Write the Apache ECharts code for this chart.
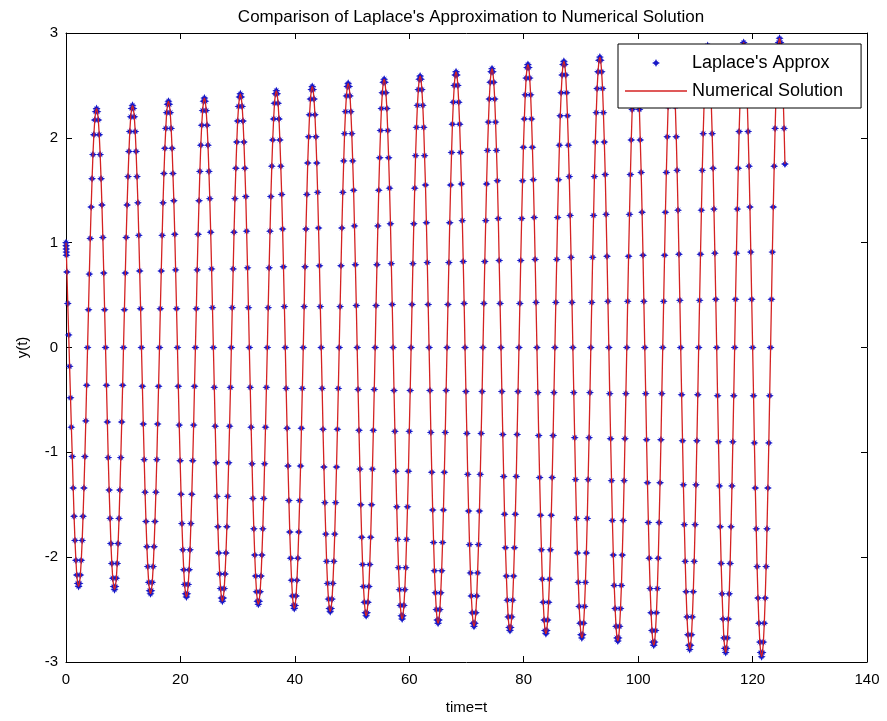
<!DOCTYPE html>
<html><head><meta charset="utf-8">
<script src="https://cdn.jsdelivr.net/npm/echarts@6/dist/echarts.min.js"></script>
<style>html,body{margin:0;padding:0;background:#fff}#main{width:887px;height:721px}</style>
</head><body><div id="main"></div>
<script>
const titleText = "Comparison of Laplace's Approximation to Numerical Solution";
const seriesNames = ["Laplace's Approx", "Numerical Solution"];
const xAxisName = "time=t";
const yAxisName = "y(t)";
const xTicks = [0, 20, 40, 60, 80, 100, 120, 140];
const yTicks = [-3, -2, -1, 0, 1, 2, 3];

// sample times (solver output points)
const timeValues = [
0,0.02,0.04,0.06,0.08,0.16,0.31,0.47,0.63,0.79,0.94,1.10,1.26,1.41,1.57,1.73,1.88,2.04,2.20,2.36,2.51,2.67,2.83,2.98,3.14,3.30,3.46,3.61,3.77,3.93,4.08,4.24,4.40,4.56,4.71,4.87,5.03,5.18,5.34,5.50,5.65,5.81,5.97,6.13,
6.28,6.44,6.60,6.75,6.91,7.07,7.23,7.38,7.54,7.70,7.85,8.01,8.17,8.33,8.48,8.64,8.80,8.95,9.11,9.27,9.42,9.58,9.74,9.90,10.05,10.21,10.37,10.52,10.68,10.84,11.00,11.15,11.31,11.47,11.62,11.78,11.94,12.10,12.25,12.41,
12.57,12.72,12.88,13.04,13.19,13.35,13.51,13.67,13.82,13.98,14.14,14.29,14.45,14.61,14.77,14.92,15.08,15.24,15.39,15.55,15.71,15.87,16.02,16.18,16.34,16.49,16.65,16.81,16.96,17.12,17.28,17.44,17.59,17.75,17.91,18.06,18.22,18.38,18.54,18.69,
18.85,19.01,19.16,19.32,19.48,19.63,19.79,19.95,20.11,20.26,20.42,20.58,20.73,20.89,21.05,21.21,21.36,21.52,21.68,21.83,21.99,22.15,22.31,22.46,22.62,22.78,22.93,23.09,23.25,23.40,23.56,23.72,23.88,24.03,24.19,24.35,24.50,24.66,24.82,24.98,
25.13,25.29,25.45,25.60,25.76,25.92,26.08,26.23,26.39,26.55,26.70,26.86,27.02,27.17,27.33,27.49,27.65,27.80,27.96,28.12,28.27,28.43,28.59,28.75,28.90,29.06,29.22,29.37,29.53,29.69,29.85,30.00,30.16,30.32,30.47,30.63,30.79,30.94,31.10,31.26,
31.42,31.57,31.73,31.89,32.04,32.20,32.36,32.52,32.67,32.83,32.99,33.14,33.30,33.46,33.62,33.77,33.93,34.09,34.24,34.40,34.56,34.71,34.87,35.03,35.19,35.34,35.50,35.66,35.81,35.97,36.13,36.29,36.44,36.60,36.76,36.91,37.07,37.23,37.38,37.54,
37.70,37.86,38.01,38.17,38.33,38.48,38.64,38.80,38.96,39.11,39.27,39.43,39.58,39.74,39.90,40.06,40.21,40.37,40.53,40.68,40.84,41.00,41.15,41.31,41.47,41.63,41.78,41.94,42.10,42.25,42.41,42.57,42.73,42.88,43.04,43.20,43.35,43.51,43.67,43.83,
43.98,44.14,44.30,44.45,44.61,44.77,44.92,45.08,45.24,45.40,45.55,45.71,45.87,46.02,46.18,46.34,46.50,46.65,46.81,46.97,47.12,47.28,47.44,47.60,47.75,47.91,48.07,48.22,48.38,48.54,48.69,48.85,49.01,49.17,49.32,49.48,49.64,49.79,49.95,50.11,
50.27,50.42,50.58,50.74,50.89,51.05,51.21,51.37,51.52,51.68,51.84,51.99,52.15,52.31,52.46,52.62,52.78,52.94,53.09,53.25,53.41,53.56,53.72,53.88,54.04,54.19,54.35,54.51,54.66,54.82,54.98,55.13,55.29,55.45,55.61,55.76,55.92,56.08,56.23,56.39,
56.55,56.71,56.86,57.02,57.18,57.33,57.49,57.65,57.81,57.96,58.12,58.28,58.43,58.59,58.75,58.90,59.06,59.22,59.38,59.53,59.69,59.85,60.00,60.16,60.32,60.48,60.63,60.79,60.95,61.10,61.26,61.42,61.58,61.73,61.89,62.05,62.20,62.36,62.52,62.67,
62.83,62.99,63.15,63.30,63.46,63.62,63.77,63.93,64.09,64.25,64.40,64.56,64.72,64.87,65.03,65.19,65.35,65.50,65.66,65.82,65.97,66.13,66.29,66.44,66.60,66.76,66.92,67.07,67.23,67.39,67.54,67.70,67.86,68.02,68.17,68.33,68.49,68.64,68.80,68.96,
69.12,69.27,69.43,69.59,69.74,69.90,70.06,70.21,70.37,70.53,70.69,70.84,71.00,71.16,71.31,71.47,71.63,71.79,71.94,72.10,72.26,72.41,72.57,72.73,72.88,73.04,73.20,73.36,73.51,73.67,73.83,73.98,74.14,74.30,74.46,74.61,74.77,74.93,75.08,75.24,
75.40,75.56,75.71,75.87,76.03,76.18,76.34,76.50,76.65,76.81,76.97,77.13,77.28,77.44,77.60,77.75,77.91,78.07,78.23,78.38,78.54,78.70,78.85,79.01,79.17,79.33,79.48,79.64,79.80,79.95,80.11,80.27,80.42,80.58,80.74,80.90,81.05,81.21,81.37,81.52,
81.68,81.84,82.00,82.15,82.31,82.47,82.62,82.78,82.94,83.10,83.25,83.41,83.57,83.72,83.88,84.04,84.19,84.35,84.51,84.67,84.82,84.98,85.14,85.29,85.45,85.61,85.77,85.92,86.08,86.24,86.39,86.55,86.71,86.87,87.02,87.18,87.34,87.49,87.65,87.81,
87.96,88.12,88.28,88.44,88.59,88.75,88.91,89.06,89.22,89.38,89.54,89.69,89.85,90.01,90.16,90.32,90.48,90.63,90.79,90.95,91.11,91.26,91.42,91.58,91.73,91.89,92.05,92.21,92.36,92.52,92.68,92.83,92.99,93.15,93.31,93.46,93.62,93.78,93.93,94.09,
94.25,94.40,94.56,94.72,94.88,95.03,95.19,95.35,95.50,95.66,95.82,95.98,96.13,96.29,96.45,96.60,96.76,96.92,97.08,97.23,97.39,97.55,97.70,97.86,98.02,98.17,98.33,98.49,98.65,98.80,98.96,99.12,99.27,99.43,99.59,99.75,99.90,100.06,100.22,100.37,
100.53,100.69,100.85,101.00,101.16,101.32,101.47,101.63,101.79,101.94,102.10,102.26,102.42,102.57,102.73,102.89,103.04,103.20,103.36,103.52,103.67,103.83,103.99,104.14,104.30,104.46,104.62,104.77,104.93,105.09,105.24,105.40,105.56,105.71,105.87,106.03,106.19,106.34,106.50,106.66,
106.81,106.97,107.13,107.29,107.44,107.60,107.76,107.91,108.07,108.23,108.38,108.54,108.70,108.86,109.01,109.17,109.33,109.48,109.64,109.80,109.96,110.11,110.27,110.43,110.58,110.74,110.90,111.06,111.21,111.37,111.53,111.68,111.84,112.00,112.15,112.31,112.47,112.63,112.78,112.94,
113.10,113.25,113.41,113.57,113.73,113.88,114.04,114.20,114.35,114.51,114.67,114.83,114.98,115.14,115.30,115.45,115.61,115.77,115.92,116.08,116.24,116.40,116.55,116.71,116.87,117.02,117.18,117.34,117.50,117.65,117.81,117.97,118.12,118.28,118.44,118.60,118.75,118.91,119.07,119.22,
119.38,119.54,119.69,119.85,120.01,120.17,120.32,120.48,120.64,120.79,120.95,121.11,121.27,121.42,121.58,121.74,121.89,122.05,122.21,122.37,122.52,122.68,122.84,122.99,123.15,123.31,123.46,123.62,123.78,123.94,124.09,124.25,124.41,124.56,124.72,124.88,125.04,125.19,125.35,125.51,
125.66
];

// Laplace approximation y(t), read from the markers
const laplaceValues = [
1.00,0.97,0.94,0.91,0.88,0.72,0.42,0.12,-0.18,-0.48,-0.76,-1.04,-1.34,-1.61,-1.84,-2.03,-2.17,-2.25,-2.28,-2.25,-2.17,-2.03,-1.84,-1.61,-1.34,-1.04,-0.70,-0.36,0,0.36,0.70,1.04,1.34,1.61,1.84,2.03,2.17,2.25,2.28,2.25,2.17,2.03,1.84,1.61,
1.36,1.05,0.71,0.36,0,-0.36,-0.71,-1.05,-1.36,-1.63,-1.87,-2.06,-2.20,-2.28,-2.31,-2.28,-2.20,-2.06,-1.87,-1.63,-1.36,-1.05,-0.71,-0.36,0,0.36,0.71,1.05,1.36,1.63,1.87,2.06,2.20,2.28,2.31,2.28,2.20,2.06,1.87,1.63,
1.38,1.07,0.73,0.37,0,-0.37,-0.73,-1.07,-1.38,-1.66,-1.90,-2.09,-2.24,-2.32,-2.35,-2.32,-2.24,-2.09,-1.90,-1.66,-1.38,-1.07,-0.73,-0.37,0,0.37,0.73,1.07,1.38,1.66,1.90,2.09,2.24,2.32,2.35,2.32,2.24,2.09,1.90,1.66,
1.40,1.08,0.74,0.37,0,-0.37,-0.74,-1.08,-1.40,-1.68,-1.93,-2.12,-2.26,-2.35,-2.38,-2.35,-2.26,-2.12,-1.93,-1.68,-1.40,-1.08,-0.74,-0.37,0,0.37,0.74,1.08,1.40,1.68,1.93,2.12,2.26,2.35,2.38,2.35,2.26,2.12,1.93,1.68,
1.42,1.10,0.75,0.38,0,-0.38,-0.75,-1.10,-1.42,-1.71,-1.96,-2.16,-2.30,-2.39,-2.42,-2.39,-2.30,-2.16,-1.96,-1.71,-1.42,-1.10,-0.75,-0.38,0,0.38,0.75,1.10,1.42,1.71,1.96,2.16,2.30,2.39,2.42,2.39,2.30,2.16,1.96,1.71,
1.44,1.11,0.76,0.38,0,-0.38,-0.76,-1.11,-1.44,-1.73,-1.98,-2.18,-2.33,-2.42,-2.45,-2.42,-2.33,-2.18,-1.98,-1.73,-1.44,-1.11,-0.76,-0.38,0,0.38,0.76,1.11,1.44,1.73,1.98,2.18,2.33,2.42,2.45,2.42,2.33,2.18,1.98,1.73,
1.46,1.13,0.77,0.39,0,-0.39,-0.77,-1.13,-1.46,-1.76,-2.01,-2.22,-2.37,-2.46,-2.49,-2.46,-2.37,-2.22,-2.01,-1.76,-1.46,-1.13,-0.77,-0.39,0,0.39,0.77,1.13,1.46,1.76,2.01,2.22,2.37,2.46,2.49,2.46,2.37,2.22,2.01,1.76,
1.48,1.14,0.78,0.39,0,-0.39,-0.78,-1.14,-1.48,-1.78,-2.04,-2.25,-2.40,-2.49,-2.52,-2.49,-2.40,-2.25,-2.04,-1.78,-1.48,-1.14,-0.78,-0.39,0,0.39,0.78,1.14,1.48,1.78,2.04,2.25,2.40,2.49,2.52,2.49,2.40,2.25,2.04,1.78,
1.50,1.16,0.79,0.40,0,-0.40,-0.79,-1.16,-1.50,-1.81,-2.07,-2.28,-2.43,-2.53,-2.56,-2.53,-2.43,-2.28,-2.07,-1.81,-1.50,-1.16,-0.79,-0.40,0,0.40,0.79,1.16,1.50,1.81,2.07,2.28,2.43,2.53,2.56,2.53,2.43,2.28,2.07,1.81,
1.52,1.18,0.80,0.41,0,-0.41,-0.80,-1.18,-1.52,-1.83,-2.10,-2.31,-2.46,-2.56,-2.59,-2.56,-2.46,-2.31,-2.10,-1.83,-1.52,-1.18,-0.80,-0.41,0,0.41,0.80,1.18,1.52,1.83,2.10,2.31,2.46,2.56,2.59,2.56,2.46,2.31,2.10,1.83,
1.55,1.19,0.81,0.41,0,-0.41,-0.81,-1.19,-1.55,-1.86,-2.13,-2.34,-2.50,-2.60,-2.63,-2.60,-2.50,-2.34,-2.13,-1.86,-1.55,-1.19,-0.81,-0.41,0,0.41,0.81,1.19,1.55,1.86,2.13,2.34,2.50,2.60,2.63,2.60,2.50,2.34,2.13,1.86,
1.56,1.21,0.82,0.42,0,-0.42,-0.82,-1.21,-1.56,-1.88,-2.15,-2.37,-2.53,-2.63,-2.66,-2.63,-2.53,-2.37,-2.15,-1.88,-1.56,-1.21,-0.82,-0.42,0,0.42,0.82,1.21,1.56,1.88,2.15,2.37,2.53,2.63,2.66,2.63,2.53,2.37,2.15,1.88,
1.59,1.23,0.83,0.42,0,-0.42,-0.83,-1.23,-1.59,-1.91,-2.18,-2.41,-2.57,-2.67,-2.70,-2.67,-2.57,-2.41,-2.18,-1.91,-1.59,-1.23,-0.83,-0.42,0,0.42,0.83,1.23,1.59,1.91,2.18,2.41,2.57,2.67,2.70,2.67,2.57,2.41,2.18,1.91,
1.60,1.24,0.84,0.43,0,-0.43,-0.84,-1.24,-1.60,-1.93,-2.21,-2.43,-2.60,-2.70,-2.73,-2.70,-2.60,-2.43,-2.21,-1.93,-1.60,-1.24,-0.84,-0.43,0,0.43,0.84,1.24,1.60,1.93,2.21,2.43,2.60,2.70,2.73,2.70,2.60,2.43,2.21,1.93,
1.63,1.26,0.86,0.43,0,-0.43,-0.86,-1.26,-1.63,-1.96,-2.24,-2.47,-2.63,-2.74,-2.77,-2.74,-2.63,-2.47,-2.24,-1.96,-1.63,-1.26,-0.86,-0.43,0,0.43,0.86,1.26,1.63,1.96,2.24,2.47,2.63,2.74,2.77,2.74,2.63,2.47,2.24,1.96,
1.65,1.27,0.87,0.44,0,-0.44,-0.87,-1.27,-1.65,-1.98,-2.27,-2.49,-2.66,-2.77,-2.80,-2.77,-2.66,-2.49,-2.27,-1.98,-1.65,-1.27,-0.87,-0.44,0,0.44,0.87,1.27,1.65,1.98,2.27,2.49,2.66,2.77,2.80,2.77,2.66,2.49,2.27,1.98,
1.67,1.29,0.88,0.44,0,-0.44,-0.88,-1.29,-1.67,-2.01,-2.30,-2.53,-2.70,-2.81,-2.84,-2.81,-2.70,-2.53,-2.30,-2.01,-1.67,-1.29,-0.88,-0.44,0,0.44,0.88,1.29,1.67,2.01,2.30,2.53,2.70,2.81,2.84,2.81,2.70,2.53,2.30,2.01,
1.69,1.31,0.89,0.45,0,-0.45,-0.89,-1.31,-1.69,-2.04,-2.33,-2.57,-2.74,-2.84,-2.88,-2.84,-2.74,-2.57,-2.33,-2.04,-1.69,-1.31,-0.89,-0.45,0,0.45,0.89,1.31,1.69,2.04,2.33,2.57,2.74,2.84,2.88,2.84,2.74,2.57,2.33,2.04,
1.71,1.32,0.90,0.46,0,-0.46,-0.90,-1.32,-1.71,-2.06,-2.35,-2.59,-2.77,-2.87,-2.91,-2.87,-2.77,-2.59,-2.35,-2.06,-1.71,-1.32,-0.90,-0.46,0,0.46,0.90,1.32,1.71,2.06,2.35,2.59,2.77,2.87,2.91,2.87,2.77,2.59,2.35,2.06,
1.73,1.34,0.91,0.46,0,-0.46,-0.91,-1.34,-1.73,-2.09,-2.39,-2.63,-2.81,-2.91,-2.95,-2.91,-2.81,-2.63,-2.39,-2.09,-1.73,-1.34,-0.91,-0.46,0,0.46,0.91,1.34,1.73,2.09,2.39,2.63,2.81,2.91,2.95,2.91,2.81,2.63,2.39,2.09,
1.75
];

// numerical solution: coincides with the approximation at the plotted points
const numericalValues = laplaceValues;

const n = Math.min(timeValues.length, laplaceValues.length);
const laplaceData = [], numericalData = [];
for (let i = 0; i < n; i++) {
  laplaceData.push([timeValues[i], laplaceValues[i]]);
  numericalData.push([timeValues[i], numericalValues[i]]);
}

const FONT = "'Liberation Sans', Arial, Helvetica, sans-serif";
const starPath = 'path://M0,-5L1.5,-2L3.5,-3.5L2,-1.5L5,0L2,1.5L3.5,3.5L1.5,2L0,5L-1.5,2L-3.5,3.5L-2,1.5L-5,0L-2,-1.5L-3.5,-3.5L-1.5,-2Z';
const lineIcon = 'path://M0,0H62V1.4H0Z';
const BLUE = '#1818c8';
const RED = '#d42222';

const axisCommon = {
  type: 'value',
  axisLine: { show: true, onZero: false, lineStyle: { color: '#000', width: 1 } },
  axisTick: { show: true, inside: true, length: 6, lineStyle: { color: '#000', width: 1 } },
  splitLine: { show: false },
  minorTick: { show: false }
};

const chart = echarts.init(document.getElementById('main'), null, { renderer: 'canvas' });
chart.setOption({
  animation: false,
  backgroundColor: '#fff',
  title: {
    text: titleText, left: 466, top: 4, textAlign: 'center',
    textStyle: { fontFamily: FONT, fontSize: 17, fontWeight: 'normal', color: '#000' }
  },
  grid: { left: 66, top: 33, width: 801, height: 629, containLabel: false, outerBoundsMode: 'none' },
  legend: {
    data: [
      { name: seriesNames[0], icon: starPath, itemStyle: { color: BLUE } },
      { name: seriesNames[1], icon: lineIcon, itemStyle: { color: RED } }
    ],
    orient: 'vertical', left: 618, top: 44,
    padding: [10, 18, 8, 7],
    itemWidth: 62, itemHeight: 8, itemGap: 10,
    backgroundColor: '#fff', borderColor: '#000', borderWidth: 1, borderRadius: 0,
    textStyle: { fontFamily: FONT, fontSize: 18, color: '#000', lineHeight: 18 }
  },
  xAxis: [
    Object.assign({}, axisCommon, {
      position: 'bottom', min: xTicks[0], max: xTicks[xTicks.length - 1], interval: xTicks[1] - xTicks[0],
      axisLabel: { color: '#000', fontFamily: FONT, fontSize: 15, margin: 10 },
      name: xAxisName, nameLocation: 'middle', nameGap: 38,
      nameTextStyle: { color: '#000', fontFamily: FONT, fontSize: 15 }
    }),
    Object.assign({}, axisCommon, {
      position: 'top', min: xTicks[0], max: xTicks[xTicks.length - 1], interval: xTicks[1] - xTicks[0],
      axisLabel: { show: false }
    })
  ],
  yAxis: [
    Object.assign({}, axisCommon, {
      position: 'left', min: yTicks[0], max: yTicks[yTicks.length - 1], interval: yTicks[1] - yTicks[0],
      axisLabel: { color: '#000', fontFamily: FONT, fontSize: 15, margin: 8 },
      name: yAxisName, nameLocation: 'middle', nameGap: 36,
      nameTextStyle: { color: '#000', fontFamily: FONT, fontSize: 15 }
    }),
    Object.assign({}, axisCommon, {
      position: 'right', min: yTicks[0], max: yTicks[yTicks.length - 1], interval: yTicks[1] - yTicks[0],
      axisLabel: { show: false }
    })
  ],
  series: [
    {
      name: seriesNames[0], type: 'scatter', xAxisIndex: 0, yAxisIndex: 0,
      data: laplaceData, symbol: starPath, symbolSize: 8, z: 2,
      itemStyle: { color: BLUE, opacity: 1 },
      emphasis: { disabled: true }, large: false
    },
    {
      name: seriesNames[1], type: 'line', xAxisIndex: 0, yAxisIndex: 0,
      data: numericalData, symbol: 'none', showSymbol: false, smooth: false, z: 3,
      sampling: null,
      lineStyle: { color: RED, width: 1.3 },
      itemStyle: { color: RED },
      emphasis: { disabled: true }
    }
  ]
});
</script>
</body></html>
